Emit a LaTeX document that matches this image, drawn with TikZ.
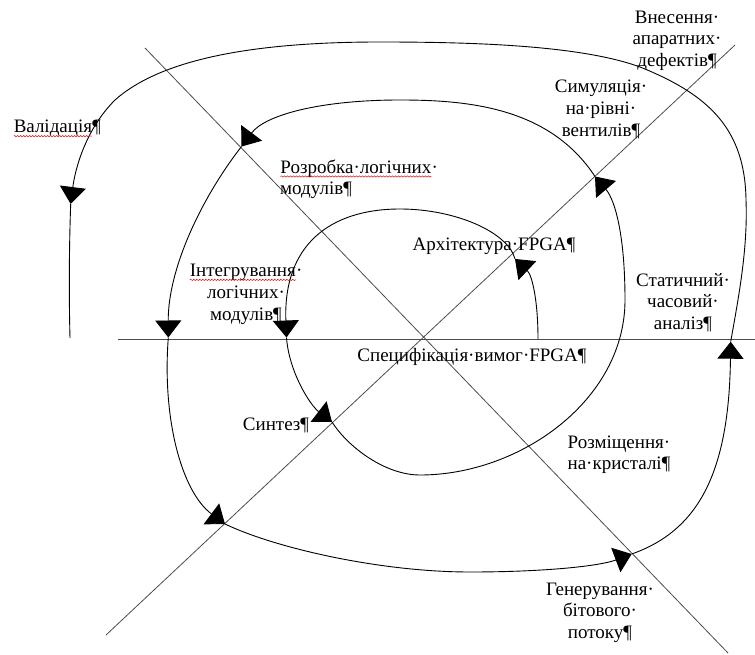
\documentclass[tikz,border=0pt]{standalone}
\usepackage{fontspec}
\setmainfont{Liberation Serif}
\usetikzlibrary{arrows.meta,decorations.pathmorphing}

% red wavy underline of a spell checker
\newcommand\squig[1]{\tikz[baseline=(sqw.base)]{\node[inner sep=0pt,outer sep=0pt](sqw){#1};\draw[red!85!black,line width=0.5pt,decorate,decoration={snake,amplitude=0.7pt,segment length=3pt}]([yshift=-3.2pt]sqw.base west)--([yshift=-3.2pt]sqw.base east);}}

\tikzset{
  guide/.style={draw=gray!60!black, line width=0.8pt},
  spiral/.style={draw=black, line width=0.9pt},
  arr/.style={-{Triangle[length=17pt,width=26pt]}},
  % multi-line labels are placed by the baseline of their last line
  lbl/.style={font=\fontsize{19}{21.7}\selectfont, align=center, inner sep=0pt, anchor=base},
}

\begin{document}
\begin{tikzpicture}[x=1pt,y=-1pt]
\useasboundingbox (0,0) rectangle (755,655);

% guide lines
\coordinate (h0) at (118,339);  \coordinate (h1) at (755,339);
\coordinate (da0) at (145,48);  \coordinate (da1) at (728,653);
\coordinate (db0) at (106,635); \coordinate (db1) at (735,45);
\draw[guide] (h0) -- (h1);
\draw[guide] (da0) -- (da1);
\draw[guide] (db0) -- (db1);

% points of the spiral
\coordinate (s0) at (538,339);
\coordinate (p1) at (515,259);
\coordinate (p2) at (286.5,337.5);
\coordinate (p3) at (332,422);
\coordinate (p4) at (595,176.5);
\coordinate (p5) at (241.5,146.5);
\coordinate (p6) at (168.3,337.5);
\coordinate (p7) at (225,524);
\coordinate (p8) at (631.7,554);
\coordinate (p9) at (730.7,341.7);
\coordinate (p10) at (70.7,204);
\coordinate (e0) at (70,338);

% spiral, from the centre outwards
\draw[spiral,arr] (s0) .. controls (538,300) and (532,275) .. (p1);
\draw[spiral,arr] (p1) .. controls (508,232) and (455,209) .. (400,209)
                      .. controls (330,209) and (283,245) .. (p2);
\draw[spiral,arr] (p2) .. controls (289,372) and (310,405) .. (p3);
\draw[spiral,arr] (p3) .. controls (348,447) and (385,475) .. (420,475)
                      .. controls (520,475) and (625,400) .. (625,300)
                      .. controls (625,235) and (615,200) .. (p4);
\draw[spiral,arr] (p4) .. controls (550,108) and (470,100) .. (400,100)
                      .. controls (320,100) and (265,115) .. (p5);
\draw[spiral,arr] (p5) .. controls (200,200) and (168,270) .. (p6);
\draw[spiral,arr] (p6) .. controls (162,420) and (182,492) .. (p7);
\draw[spiral,arr] (p7) .. controls (275,548) and (380,572) .. (470,572)
                      .. controls (545,572) and (600,566) .. (p8);
\draw[spiral,arr] (p8) .. controls (700,530) and (729,470) .. (p9);
\draw[spiral,arr] (p9) .. controls (738,300) and (748,250) .. (746,200)
                      .. controls (745,130) and (710,95) .. (640,67)
                      .. controls (580,45) and (470,42) .. (380,42)
                      .. controls (250,42) and (160,60) .. (115,100)
                      .. controls (85,130) and (75,170) .. (p10);
\draw[spiral] (p10) .. controls (69,250) and (69,300) .. (e0);

% labels
\node[lbl,anchor=base west] (val) at (13.3,133) {\squig{Валідація}¶};
\node[lbl,anchor=base west,align=left] (roz) at (280,195) {\squig{Розробка·логічних}·\\модулів¶};
\node[lbl] (integ) at (246,320.1) {\squig{Інтегрування}·\\логічних·\\модулів¶};
\node[lbl] (vnes) at (677,66.7) {Внесення·\\апаратних·\\дефектів¶};
\node[lbl] (sim) at (601,136.4) {Симуляція·\\на·рівні·\\вентилів¶};
\node[lbl] (arch) at (494,251) {Архітектура·FPGA¶};
\node[lbl] (stat) at (683,329.4) {Статичний·\\часовий·\\аналіз¶};
\node[lbl] (spec) at (472,361.7) {Специфікація·вимог·FPGA¶};
\node[lbl] (synt) at (276,430) {Синтез¶};
\node[lbl] (rozm) at (619,469.7) {Розміщення·\\на·кристалі¶};
\node[lbl] (gen) at (600,638.4) {Генерування·\\бітового·\\потоку¶};
\end{tikzpicture}
\end{document}
